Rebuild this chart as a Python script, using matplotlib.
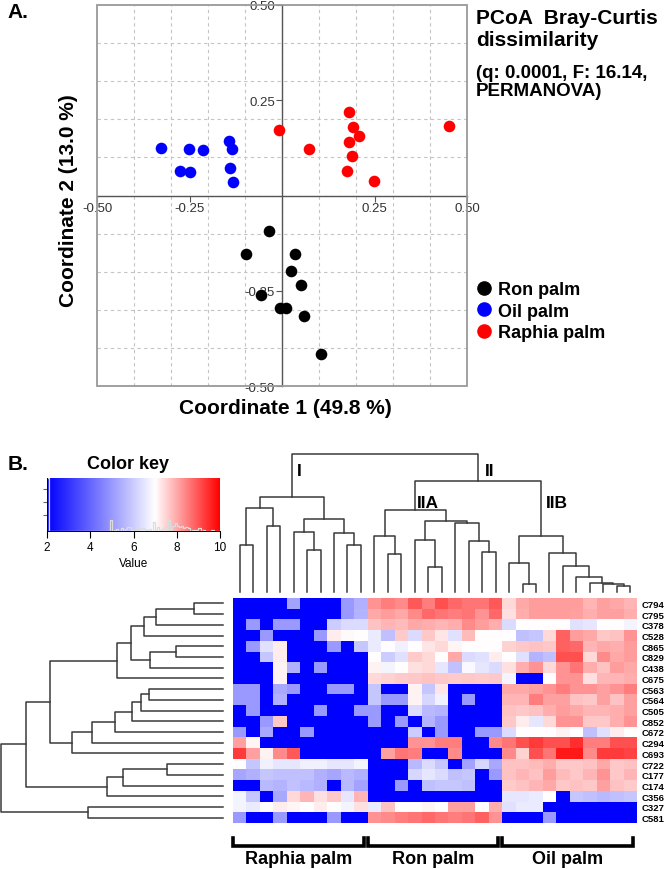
import numpy as np
import matplotlib
matplotlib.use("Agg")
import matplotlib.pyplot as plt
import matplotlib.transforms as mtransforms
from matplotlib.colors import LinearSegmentedColormap
from matplotlib.lines import Line2D
from matplotlib.patches import Rectangle

plt.rcParams['font.family'] = ['Liberation Sans', 'DejaVu Sans']

# ---- panel A: PCoA scores (Bray-Curtis)
ron_x = [-0.034, -0.097, 0.035, 0.023, 0.050, -0.056, -0.006, 0.011, 0.060, 0.106]
ron_y = [-0.094, -0.154, -0.154, -0.199, -0.234, -0.262, -0.294, -0.294, -0.317, -0.415]
oil_x = [-0.327, -0.252, -0.214, -0.144, -0.135, -0.277, -0.250, -0.141, -0.132]
oil_y = [0.124, 0.121, 0.119, 0.144, 0.123, 0.065, 0.061, 0.072, 0.035]
raphia_x = [-0.009, 0.073, 0.182, 0.192, 0.208, 0.182, 0.188, 0.177, 0.249, 0.450]
raphia_y = [0.171, 0.121, 0.220, 0.179, 0.156, 0.141, 0.104, 0.064, 0.038, 0.182]
pcoa_ticks = [-0.5, -0.25, 0.25, 0.5]

# ---- panel B: heatmap of OTU abundance
otu_labels = ['C794', 'C795', 'C378', 'C528', 'C865', 'C829', 'C438', 'C675',
              'C563', 'C564', 'C505', 'C852', 'C672', 'C294', 'C693', 'C722',
              'C177', 'C174', 'C356', 'C327', 'C581']
sample_groups = ['Raphia palm', 'Ron palm', 'Oil palm']
group_sizes = [10, 10, 10]

abund = np.array([
    [2, 2, 2, 2, 5.2, 2, 2, 2, 5.0, 5.45, 8.25, 8.5, 8.35, 8.95, 8.5, 9.05, 8.75, 8.6, 8.6, 8.95, 7.45, 8.0, 8.15, 8.15, 8.15, 8.15, 7.85, 8.1, 8.0, 7.85],
    [2, 2, 2, 2, 2, 2, 2, 2, 5.0, 5.5, 8.0, 8.15, 8.0, 8.35, 8.75, 8.6, 8.5, 8.6, 8.25, 8.75, 7.35, 7.95, 8.15, 8.15, 8.15, 8.1, 7.95, 8.1, 8.1, 7.95],
    [2, 5.0, 2, 5.0, 5.0, 2, 2, 6.0, 6.3, 6.3, 7.7, 7.85, 7.8, 8.0, 7.95, 7.85, 7.95, 8.35, 8.15, 7.95, 6.3, 7.0, 7.0, 7.0, 7.0, 6.4, 6.5, 7.0, 7.0, 6.8],
    [2, 2, 5.0, 2, 2, 2, 5.0, 7.2, 7.05, 7.0, 6.6, 5.75, 7.6, 6.3, 7.65, 7.3, 6.4, 7.8, 7.0, 7.0, 7.0, 5.75, 5.9, 7.45, 8.85, 8.15, 8.0, 7.65, 7.7, 8.25],
    [2, 5.0, 6.4, 7.2, 2, 2, 2, 5.0, 2, 5.9, 6.6, 7.0, 6.7, 7.0, 7.3, 7.45, 7.1, 7.0, 7.0, 7.0, 7.5, 7.65, 7.7, 7.65, 8.85, 8.75, 7.85, 8.0, 7.95, 8.15],
    [2, 2, 5.9, 7.2, 2, 2, 2, 2, 2, 2, 7.0, 6.0, 6.4, 7.6, 7.45, 7.0, 8.0, 6.3, 6.4, 7.2, 7.0, 6.4, 5.5, 5.75, 9.05, 9.05, 7.45, 8.35, 8.0, 8.15],
    [2, 2, 2, 7.15, 5.45, 2, 5.0, 2, 2, 2, 7.15, 6.8, 7.0, 7.35, 7.45, 6.5, 5.8, 6.9, 6.5, 6.3, 7.35, 7.95, 8.25, 7.45, 8.25, 8.6, 7.95, 7.7, 8.15, 8.0],
    [2, 2, 2, 7.15, 2, 2, 2, 2, 2, 2, 7.45, 7.5, 7.6, 7.65, 7.7, 7.65, 7.6, 7.65, 7.6, 7.65, 6.8, 2, 2, 7.0, 8.25, 8.25, 7.35, 7.85, 7.85, 7.95],
    [5.0, 5.0, 2, 5.3, 5.0, 2, 2, 5.0, 5.0, 2, 5.9, 2, 2, 7.15, 5.9, 7.3, 2, 2, 2, 2, 8.0, 8.0, 8.1, 8.25, 8.5, 8.25, 8.25, 8.1, 8.25, 8.5],
    [5.0, 5.0, 2, 5.45, 2, 2, 2, 2, 2, 2, 5.9, 5.0, 5.0, 7.15, 6.2, 6.7, 2, 5.0, 2, 2, 7.85, 7.85, 8.5, 8.1, 8.1, 7.7, 7.65, 8.1, 7.7, 8.1],
    [2, 5.0, 2, 2, 2, 2, 5.0, 2, 2, 5.0, 5.0, 2, 2, 6.3, 5.65, 5.5, 2, 2, 2, 2, 7.7, 7.65, 7.7, 7.95, 8.15, 8.0, 7.85, 7.85, 7.95, 8.1],
    [2, 2, 5.0, 7.65, 2, 2, 2, 2, 2, 2, 5.0, 2, 5.0, 2, 5.5, 5.0, 2, 2, 2, 2, 7.65, 7.2, 6.5, 7.45, 8.25, 8.25, 7.65, 7.65, 7.95, 8.25],
    [5.0, 2, 5.3, 2, 2, 5.0, 2, 2, 2, 2, 2, 2, 2, 6.0, 2, 5.0, 2, 2, 5.0, 5.0, 6.3, 7.0, 7.0, 7.0, 7.15, 7.0, 5.75, 6.4, 7.2, 7.0],
    [8.1, 7.1, 2, 2, 2, 2, 2, 2, 2, 2, 2, 2, 2, 8.25, 8.25, 8.5, 8.5, 2, 2, 8.35, 8.6, 9.05, 9.3, 9.05, 9.05, 9.45, 8.5, 8.5, 9.05, 9.05],
    [9.3, 8.1, 7.15, 8.35, 8.95, 2, 2, 2, 2, 2, 2, 8.1, 8.6, 8.5, 2, 2, 8.35, 2, 2, 2, 8.35, 7.5, 9.05, 8.6, 9.7, 9.7, 8.35, 9.3, 9.3, 9.2],
    [7.0, 5.9, 6.7, 6.5, 6.5, 6.7, 6.7, 6.5, 6.5, 6.8, 2, 2, 2, 5.65, 6.3, 5.9, 2, 5.2, 6.2, 5.3, 7.7, 7.7, 7.8, 7.95, 7.65, 7.65, 7.7, 8.0, 7.65, 7.7],
    [5.25, 5.45, 5.9, 5.75, 5.75, 5.75, 5.45, 5.25, 5.65, 5.45, 2, 2, 2, 6.2, 6.5, 6.3, 5.75, 5.9, 2, 5.0, 7.7, 7.85, 7.7, 8.15, 7.8, 7.65, 7.85, 8.25, 7.65, 7.85],
    [2, 2, 5.65, 5.5, 5.8, 5.65, 5.45, 2, 5.6, 5.2, 2, 2, 5.0, 2, 5.75, 5.9, 5.9, 5.75, 2, 2, 7.6, 7.7, 7.85, 8.0, 7.65, 7.7, 7.65, 8.1, 7.7, 7.6],
    [6.8, 5.9, 2, 5.3, 7.45, 7.85, 7.35, 7.65, 6.5, 7.85, 2, 2, 2, 2, 2, 2, 2, 2, 2, 2, 6.5, 6.5, 6.6, 7.0, 2, 5.9, 5.75, 5.65, 5.75, 5.9],
    [6.8, 6.6, 7.0, 7.2, 7.1, 7.0, 7.2, 7.0, 6.8, 7.35, 6.6, 7.7, 7.0, 7.0, 7.1, 7.0, 8.1, 8.1, 7.0, 7.95, 6.4, 6.6, 6.6, 2, 2, 2, 2, 2, 2, 2],
    [5.0, 2, 2, 5.0, 2, 2, 2, 5.0, 2, 2, 8.25, 8.35, 8.5, 8.6, 8.75, 8.6, 8.5, 8.6, 8.85, 8.25, 2, 2, 2, 5.0, 2, 2, 2, 2, 2, 2],
])

# dendrograms: (child a, child b, merge height); leaves are 0..n-1, new nodes n, n+1, ...
col_tree = [
    (0, 1, 47.3), (2, 3, 66.7), (30, 31, 84.0), (5, 6, 42.7), (4, 33, 60.7),
    (8, 9, 47.3), (7, 35, 59.3), (34, 36, 73.3), (32, 37, 95.0),
    (11, 12, 38.3), (10, 39, 56.7), (14, 15, 25.7), (13, 41, 52.7),
    (18, 19, 40.0), (17, 43, 51.7), (16, 44, 69.3), (42, 45, 71.7), (40, 46, 82.7),
    (21, 22, 8.3), (20, 48, 29.0), (28, 29, 6.0), (27, 50, 8.0), (26, 51, 9.5),
    (25, 52, 15.0), (24, 53, 26.7), (23, 54, 39.3), (49, 55, 56.7),
    (47, 56, 111.7), (38, 57, 138.3),
]
row_tree = [
    (0, 1, 29.0), (2, 21, 66.7), (22, 3, 79.0), (4, 5, 47.3), (24, 6, 73.3),
    (23, 25, 92.3), (26, 7, 106.0), (8, 9, 74.3), (28, 10, 81.7), (29, 11, 91.0),
    (30, 12, 108.3), (31, 13, 131.3), (32, 14, 151.0), (27, 33, 172.7),
    (15, 16, 55.7), (35, 17, 100.0), (36, 18, 116.0), (34, 37, 196.7),
    (19, 20, 135.0), (38, 39, 221.7),
]
# clade name, node, x offset (columns), height
clade_labels = [('I', 38, 0.35, 122), ('II', 57, 0.5, 122),
                ('IIA', 47, 0.12, 90), ('IIB', 56, 0.35, 90)]

W, H = 664, 870
fig = plt.figure(figsize=(W / 100, H / 100), dpi=100)


def box(x0, y0, x1, y1):
    # pixel box (top-left origin) -> figure rect
    return [x0 / W, 1 - y1 / H, (x1 - x0) / W, (y1 - y0) / H]


def draw_tree(ax, merges, n, horizontal=False):
    pos = list(range(n))
    hgt = [0.0] * n
    for a, b, h in merges:
        xs = [pos[a], pos[a], pos[b], pos[b]]
        ys = [hgt[a], h, h, hgt[b]]
        if horizontal:
            ax.plot(ys, xs, color='#3a3a3a', lw=1.1, clip_on=False)
        else:
            ax.plot(xs, ys, color='#3a3a3a', lw=1.1, clip_on=False)
        pos.append((pos[a] + pos[b]) / 2)
        hgt.append(h)
    return pos


# ================= panel A =================
ax = fig.add_axes(box(97, 6, 467, 387))
ax.set_xlim(-0.5, 0.5)
ax.set_ylim(-0.5, 0.5)
ax.spines['left'].set_position('zero')
ax.spines['bottom'].set_position('zero')
ax.spines['top'].set_visible(False)
ax.spines['right'].set_visible(False)
for s in ('left', 'bottom'):
    ax.spines[s].set_color('#555555')
    ax.spines[s].set_linewidth(1)
ax.add_patch(Rectangle((0, 0), 1, 1, transform=ax.transAxes, fill=False,
                       ec='#999999', lw=1.3, clip_on=False, zorder=3))
ax.set_xticks(pcoa_ticks)
ax.set_yticks(pcoa_ticks)
ax.set_xticklabels([f'{t:.2f}' for t in pcoa_ticks])
ax.set_yticklabels([f'{t:.2f}' for t in pcoa_ticks])
ax.set_xticks(np.arange(-0.4, 0.41, 0.1), minor=True)
ax.set_yticks(np.arange(-0.4, 0.41, 0.1), minor=True)
ax.tick_params(which='minor', length=0)
ax.tick_params(which='major', length=4, color='#555555', labelsize=9.5,
               labelcolor='#333333', pad=1)
ax.grid(which='minor', color='#c4c4c4', ls=(0, (3, 3)), lw=0.8)
ax.set_axisbelow(True)

ax.scatter(ron_x, ron_y, s=70, color='black', lw=0, zorder=4)
ax.scatter(oil_x, oil_y, s=70, color='#0000ff', lw=0, zorder=4)
ax.scatter(raphia_x, raphia_y, s=70, color='#ff0000', lw=0, zorder=4)

fig.text(285 / W, 1 - 409 / H, 'Coordinate 1 (49.8 %)', ha='center', va='center',
         fontsize=15, weight='bold')
fig.text(69 / W, 1 - 201 / H, 'Coordinate 2 (13.0 %)', ha='center', va='center',
         fontsize=15, weight='bold', rotation=90)
fig.text(7 / W, 1 - 13 / H, 'A.', fontsize=15, weight='bold', va='center')
fig.text(476 / W, 1 - 18 / H, 'PCoA  Bray-Curtis', fontsize=15, weight='bold', va='center')
fig.text(476 / W, 1 - 41 / H, 'dissimilarity', fontsize=15, weight='bold', va='center')
fig.text(476 / W, 1 - 74 / H, '(q: 0.0001, F: 16.14,', fontsize=13.5, weight='bold', va='center')
fig.text(476 / W, 1 - 92 / H, 'PERMANOVA)', fontsize=13.5, weight='bold', va='center')

handles = [Line2D([], [], marker='o', ls='', color=c, markersize=9.5)
           for c in ('black', '#0000ff', '#ff0000')]
fig.legend(handles, ['Ron palm', 'Oil palm', 'Raphia palm'], loc='upper left',
           bbox_to_anchor=(477 / W, 1 - 282 / H), frameon=False, borderpad=0,
           borderaxespad=0, handlelength=0.8, handletextpad=0.38, labelspacing=0.25,
           prop={'weight': 'bold', 'size': 13})

# ================= panel B =================
cmap = LinearSegmentedColormap.from_list(
    'key', [(0, '#0000ff'), (0.625, '#ffffff'), (1, '#ff0000')])

fig.text(8 / W, 1 - 465 / H, 'B.', fontsize=15, weight='bold', va='center')
fig.text(128 / W, 1 - 465 / H, 'Color key', fontsize=13, weight='bold',
         ha='center', va='center')

kax = fig.add_axes(box(47, 479, 220, 532))
kax.imshow(np.linspace(2, 10, 256)[None, :], extent=[2, 10, 0, 1], aspect='auto',
           cmap=cmap, vmin=2, vmax=10)
counts, edges = np.histogram(abund, bins=np.arange(2, 10.01, 0.1))
kax.stairs(counts / counts.max(), edges, color='#dcdcdc', lw=0.9)
kax.set_xlim(2, 10)
kax.set_ylim(0, 1)
kax.set_xticks([2, 4, 6, 8, 10])
kax.set_yticks([0.3, 0.55, 0.8])
kax.set_yticklabels([])
kax.tick_params(axis='x', length=5, labelsize=8.5, pad=2)
kax.tick_params(axis='y', length=3, color='#666666')
kax.set_xlabel('Value', fontsize=8.5, labelpad=3)
kax.spines['top'].set_visible(False)
kax.spines['right'].set_visible(False)
kax.spines['left'].set_linewidth(0.7)
kax.spines['bottom'].set_linewidth(0.7)

# heatmap
hax = fig.add_axes(box(233, 599, 637, 824))
hax.imshow(abund, cmap=cmap, vmin=2, vmax=10, aspect='auto', interpolation='nearest')
hax.set_xticks([])
hax.yaxis.tick_right()
hax.set_yticks(range(len(otu_labels)))
hax.set_yticklabels(otu_labels, fontsize=6.8, weight='bold')
hax.tick_params(axis='y', length=0, pad=3)
for s in hax.spines.values():
    s.set_visible(False)

trans = mtransforms.blended_transform_factory(hax.transData, hax.transAxes)
start = 0
for name, n in zip(sample_groups, group_sizes):
    x0 = start - 0.5
    x1 = start + n - 0.5 - 0.3
    hax.plot([x0, x0, x1, x1], [-0.068, -0.102, -0.102, -0.068], transform=trans,
             clip_on=False, color='black', lw=2.6, solid_joinstyle='miter')
    hax.text((x0 + x1) / 2, -0.16, name, transform=trans, ha='center', va='center',
             fontsize=13, weight='bold')
    start += n

# column dendrogram
dax = fig.add_axes(box(233, 443.3, 637, 593.3))
dax.set_xlim(-0.5, abund.shape[1] - 0.5)
dax.set_ylim(0, 150)
dax.axis('off')
col_pos = draw_tree(dax, col_tree, abund.shape[1])
for name, node, dx, h in clade_labels:
    dax.text(col_pos[node] + dx, h, name, ha='left', va='center', fontsize=12.5,
             weight='bold')

# row dendrogram
rax = fig.add_axes(box(0, 599, 223, 824))
rax.set_xlim(223, 0)
rax.set_ylim(abund.shape[0] - 0.5, -0.5)
rax.axis('off')
draw_tree(rax, row_tree, abund.shape[0], horizontal=True)

fig.savefig('out.png', dpi=100)
